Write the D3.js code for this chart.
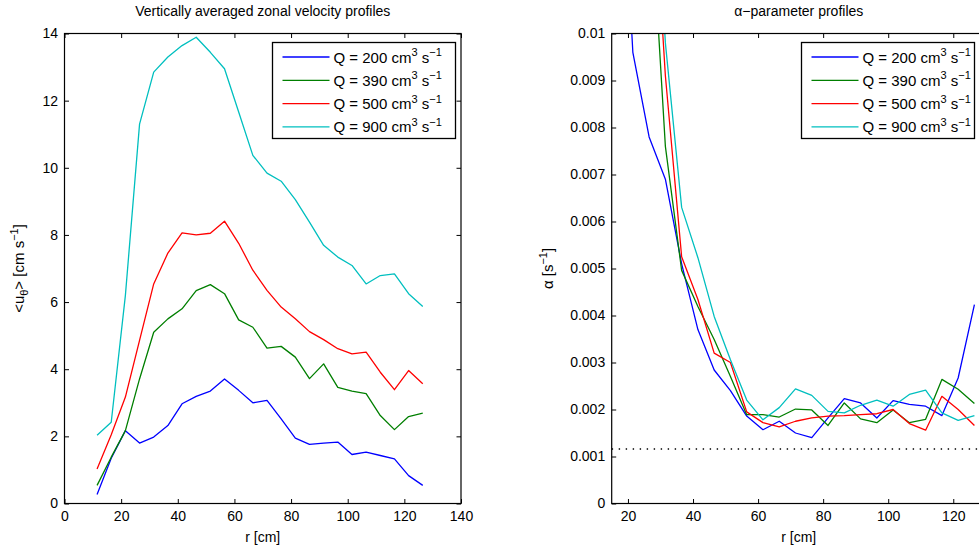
<!DOCTYPE html>
<html>
<head>
<meta charset="utf-8">
<script src="https://cdn.jsdelivr.net/npm/d3@7"></script>
<style>
  body { margin: 0; background: #fff; }
  svg text { font-family: "Liberation Sans", Arial, Helvetica, sans-serif; fill: #000; }
</style>
</head>
<body>
<svg id="fig" width="979" height="550"></svg>
<script>
// radial positions (cm), shared by both panels
const radius = [11.5, 16.5, 21.5, 26.5, 31.5, 36.5, 41.5, 46.5, 51.5, 56.5, 61.5, 66.5,
                71.5, 76.5, 81.5, 86.5, 91.5, 96.5, 101.5, 106.5, 111.5, 116.5, 121.5, 126.5];

const flowRates = [200, 390, 500, 900];
const seriesColors = ['#0000ff', '#007f00', '#ff0000', '#00bfbf'];

// vertically averaged zonal velocity <u_theta> (cm/s)
const velocity200 = [0.27, 1.35, 2.17, 1.80, 1.98, 2.32, 2.97, 3.19, 3.35, 3.71, 3.37, 3.00,
                     3.07, 2.52, 1.95, 1.76, 1.80, 1.83, 1.46, 1.53, 1.43, 1.33, 0.83, 0.54];
const velocity390 = [0.54, 1.38, 2.17, 3.71, 5.10, 5.50, 5.80, 6.34, 6.52, 6.25, 5.47, 5.25,
                     4.63, 4.68, 4.36, 3.72, 4.16, 3.46, 3.35, 3.27, 2.62, 2.20, 2.59, 2.69];
const velocity500 = [1.03, 2.05, 3.17, 4.86, 6.54, 7.46, 8.06, 8.00, 8.05, 8.41, 7.75, 6.95,
                     6.35, 5.85, 5.50, 5.12, 4.88, 4.61, 4.46, 4.51, 3.91, 3.39, 3.96, 3.57];
const velocity900 = [2.03, 2.42, 6.20, 11.30, 12.85, 13.30, 13.64, 13.89, 13.44, 12.95, 11.66, 10.37,
                     9.84, 9.60, 9.05, 8.38, 7.69, 7.34, 7.09, 6.54, 6.79, 6.84, 6.25, 5.87];

// alpha parameter (1/s); the first values run above the plotted range
const alpha200 = [0.030, 0.016, 0.0096, 0.0078, 0.0069, 0.0051, 0.0037, 0.00284, 0.0024, 0.00186, 0.00157, 0.00175,
                  0.0015, 0.0014, 0.00182, 0.00223, 0.00214, 0.00182, 0.00219, 0.00211, 0.00207, 0.00187, 0.00267, 0.00423];
const alpha390 = [0.040, 0.030, 0.020, 0.0134, 0.0076, 0.00496, 0.00419, 0.00349, 0.0027, 0.00189, 0.00189, 0.00184,
                  0.00201, 0.00199, 0.00166, 0.00214, 0.0018, 0.00172, 0.00199, 0.00172, 0.00179, 0.00264, 0.00243, 0.00213];
const alpha500 = [0.040, 0.030, 0.020, 0.0147, 0.0091, 0.00525, 0.00434, 0.0032, 0.0030, 0.00195, 0.00172, 0.00163,
                  0.00175, 0.00182, 0.00186, 0.00187, 0.00189, 0.00191, 0.0020, 0.0017, 0.00156, 0.00228, 0.0020, 0.00166];
const alpha900 = [0.040, 0.032, 0.025, 0.016, 0.0098, 0.0063, 0.00523, 0.00398, 0.00306, 0.0022, 0.00178, 0.00204,
                  0.00244, 0.0023, 0.00196, 0.00193, 0.00209, 0.0022, 0.00207, 0.00232, 0.00241, 0.00193, 0.00177, 0.00187];
const alphaReference = 0.00116;   // dotted horizontal line

const velXTicks = [0, 20, 40, 60, 80, 100, 120, 140];
const velYTicks = [0, 2, 4, 6, 8, 10, 12, 14];
const alphaXTicks = [20, 40, 60, 80, 100, 120];
const alphaYTicks = [0, 0.001, 0.002, 0.003, 0.004, 0.005, 0.006, 0.007, 0.008, 0.009, 0.01];
const alphaYLabels = ['0', '0.001', '0.002', '0.003', '0.004', '0.005', '0.006', '0.007', '0.008', '0.009', '0.01'];

const velSeries = [velocity200, velocity390, velocity500, velocity900];
const alphaSeries = [alpha200, alpha390, alpha500, alpha900];

const svg = d3.select('#fig');
const TICK = 4.5;
const FONT = '14px';

function drawPanel(opt) {
  const { x, y, series, id } = opt;
  const [x0, x1] = x.range();
  const [y0, y1] = y.range();   // y0 = bottom, y1 = top

  const g = svg.append('g');

  g.append('clipPath').attr('id', id)
    .append('rect')
    .attr('x', x0).attr('y', y1)
    .attr('width', x1 - x0).attr('height', y0 - y1);

  // axes with inward ticks on all four sides
  const styleAxis = sel => {
    sel.attr('font-size', null).attr('font-family', null);
    sel.select('.domain').remove();
    sel.selectAll('line').attr('stroke', '#000').attr('stroke-width', 1);
    sel.selectAll('text').attr('font-size', FONT).attr('fill', '#000');
  };
  const xFmt = opt.xFormat || (d => d);
  const yFmt = opt.yFormat || (d => d);

  g.append('g').attr('transform', `translate(0,${y0})`)
    .call(d3.axisBottom(x).tickValues(opt.xTicks).tickSize(-TICK).tickPadding(8).tickFormat(xFmt))
    .call(styleAxis);
  g.append('g').attr('transform', `translate(0,${y1})`)
    .call(d3.axisTop(x).tickValues(opt.xTicks).tickSize(-TICK).tickFormat(''))
    .call(styleAxis);
  g.append('g').attr('transform', `translate(${x0},0)`)
    .call(d3.axisLeft(y).tickValues(opt.yTicks).tickSize(-TICK).tickPadding(6.5).tickFormat(yFmt))
    .call(styleAxis);
  g.append('g').attr('transform', `translate(${x1},0)`)
    .call(d3.axisRight(y).tickValues(opt.yTicks).tickSize(-TICK).tickFormat(''))
    .call(styleAxis);

  const plot = g.append('g').attr('clip-path', `url(#${id})`);

  if (opt.refLine !== undefined) {
    plot.append('line')
      .attr('x1', x0).attr('x2', x1)
      .attr('y1', y(opt.refLine)).attr('y2', y(opt.refLine))
      .attr('stroke', '#000').attr('stroke-width', 1.4)
      .attr('stroke-dasharray', '1.4,5.6');
  }

  const line = d3.line().x((d, i) => x(radius[i])).y(d => y(d));
  series.forEach((s, k) => {
    plot.append('path')
      .datum(s)
      .attr('d', line)
      .attr('fill', 'none')
      .attr('stroke', seriesColors[k])
      .attr('stroke-width', 1.3)
      .attr('stroke-linejoin', 'round');
  });

  // box
  g.append('rect')
    .attr('x', x0).attr('y', y1)
    .attr('width', x1 - x0).attr('height', y0 - y1)
    .attr('fill', 'none').attr('stroke', '#000').attr('stroke-width', 1.2);

  // title
  g.append('text')
    .attr('x', (x0 + x1) / 2).attr('y', 16)
    .attr('text-anchor', 'middle').attr('font-size', FONT)
    .text(opt.title);

  // x label
  g.append('text')
    .attr('x', (x0 + x1) / 2).attr('y', 542)
    .attr('text-anchor', 'middle').attr('font-size', FONT)
    .text('r [cm]');

  // y label
  const yl = g.append('text')
    .attr('transform', `translate(${opt.yLabelX},${(y0 + y1) / 2}) rotate(-90)`)
    .attr('text-anchor', 'middle').attr('font-size', '15px');
  opt.yLabel(yl);

  // legend
  const L = opt.legend;
  const lg = g.append('g').attr('transform', `translate(${L.x},${L.y})`);
  lg.append('rect')
    .attr('width', L.w).attr('height', L.h)
    .attr('fill', '#fff').attr('stroke', '#000').attr('stroke-width', 1.3);
  flowRates.forEach((q, k) => {
    const cy = 14.5 + k * 23.3;
    lg.append('line')
      .attr('x1', 10).attr('x2', 57).attr('y1', cy).attr('y2', cy)
      .attr('stroke', seriesColors[k]).attr('stroke-width', 1.3);
    const t = lg.append('text')
      .attr('x', 61).attr('y', cy + 5.5).attr('font-size', '15px');
    t.append('tspan').text(`Q = ${q} cm`);
    t.append('tspan').attr('dy', -6.5).attr('font-size', '11px').text('3');
    t.append('tspan').attr('dy', 6.5).text(' s');
    t.append('tspan').attr('dy', -6.5).attr('font-size', '11px').text('\u22121');
  });
}

// left panel: velocity profiles
drawPanel({
  id: 'clipVel',
  x: d3.scaleLinear().domain([0, 140]).range([64.5, 461]),
  y: d3.scaleLinear().domain([0, 14]).range([503.5, 33.5]),
  series: velSeries,
  xTicks: velXTicks,
  yTicks: velYTicks,
  title: 'Vertically averaged zonal velocity profiles',
  yLabelX: 24,
  yLabel: t => {
    t.append('tspan').text('<u');
    t.append('tspan').attr('dy', 4).attr('font-size', '11px').text('\u03b8');
    t.append('tspan').attr('dy', -4).text('> [cm s');
    t.append('tspan').attr('dy', -6.5).attr('font-size', '11px').text('\u22121');
    t.append('tspan').attr('dy', 6.5).text(']');
  },
  legend: { x: 272.5, y: 42.5, w: 183, h: 96 }
});

// right panel: alpha profiles
drawPanel({
  id: 'clipAlpha',
  x: d3.scaleLinear().domain([15, 130]).range([611.7, 985.8]),
  y: d3.scaleLinear().domain([0, 0.01]).range([503.5, 33.5]),
  series: alphaSeries,
  xTicks: alphaXTicks,
  yTicks: alphaYTicks,
  yFormat: (d, i) => alphaYLabels[i],
  refLine: alphaReference,
  title: '\u03b1\u2212parameter profiles',
  yLabelX: 553,
  yLabel: t => {
    t.append('tspan').text('\u03b1 [s');
    t.append('tspan').attr('dy', -6.5).attr('font-size', '11px').text('\u22121');
    t.append('tspan').attr('dy', 6.5).text(']');
  },
  legend: { x: 801.5, y: 42.5, w: 173, h: 96 }
});
</script>
</body>
</html>
